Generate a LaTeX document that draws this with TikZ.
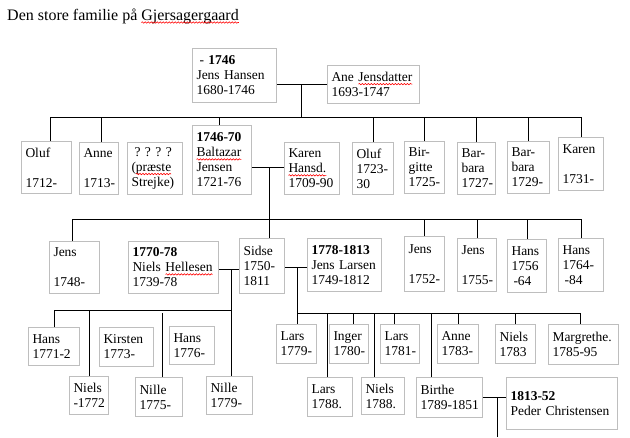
\documentclass[tikz,border=0pt]{standalone}
\usepackage{fontspec}
\setmainfont{Liberation Serif}
\usetikzlibrary{decorations.pathmorphing}
\newsavebox\wavebox
\newcommand\redwave[1]{\sbox\wavebox{#1}\mbox{\rlap{\usebox\wavebox}\tikz[overlay, baseline=0pt, x=1pt, y=1pt]{\draw[red, line width=0.6pt, decorate, decoration={snake, amplitude=0.7pt, segment length=3pt}] (0,-2.5) -- (\wd\wavebox,-2.5);}\hspace*{\wd\wavebox}}}
\newcommand\nobreaks{\hyphenpenalty=10000\relax\exhyphenpenalty=10000\relax}
\definecolor{boxgray}{RGB}{190,190,190}

\begin{document}
\begin{tikzpicture}[x=1pt, y=-1pt,
    person/.style={draw=boxgray, line width=1pt, anchor=north west, align=left,
        inner xsep=4pt, inner ysep=0pt,
        font=\fontsize{13.5}{15}\selectfont\nobreaks},
    link/.style={draw=black, line width=1pt}]
    \useasboundingbox (0,0) rectangle (630,437);
    \node[anchor=base west, inner sep=0pt, font=\fontsize{16}{18}\selectfont] (title) at (7,20) {Den store familie på \redwave{Gjersagergaard}};

    % first couple
    \node[person, text width=76pt, minimum height=54] (jhansen) at (192,48) {\hspace*{3pt}- \textbf{1746}\\Jens Hansen\\1680-1746};
    \node[person, text width=84pt, minimum height=38] (ane) at (327,65) {Ane \redwave{Jensdatter}\\1693-1747};
    \coordinate (top) at (301,117);
    \draw[link] (ane.west -| jhansen.east) -- (ane.west);
    \draw[link] (top |- ane.west) -- (top);

    % their children
    \node[person, text width=42pt, minimum height=52] (oluf) at (21,141) {Oluf\\[15pt]1712-};
    \node[person, text width=31pt, minimum height=52] (anne) at (79,142) {Anne\\[15pt]1713-};
    \node[person, text width=47pt, minimum height=52] (praeste) at (127,142) {\hspace*{3pt}?~?~?~?\\(\redwave{præste}\\Strejke)};
    \node[person, text width=51pt, minimum height=69] (baltazar) at (192,125) {\textbf{1746-70}\\\redwave{Baltazar}\\Jensen\\1721-76};
    \node[person, text width=47pt, minimum height=52] (karenh) at (284,142) {Karen\\\redwave{Hansd.}\\1709-90};
    \node[person, text width=33pt, minimum height=52] (oluf2) at (352,142) {Oluf\\1723-\\30};
    \node[person, text width=32pt, minimum height=52] (birgitte) at (404,141) {Bir-\\gitte\\1725-};
    \node[person, text width=30pt, minimum height=52] (barbara1) at (457,142) {Bar-\\bara\\1727-};
    \node[person, text width=34pt, minimum height=52] (barbara2) at (507,141) {Bar-\\bara\\1729-};
    \node[person, text width=37pt, minimum height=53] (karen) at (558,137) {Karen\\[15pt]1731-};
    \draw[link] ([xshift=4]oluf.north |- top) -- (karen.north |- top);
    \draw[link] ([xshift=4]oluf.north) -- ([xshift=4]oluf.north |- top);
    \draw[link] ([xshift=2.5]anne.north) -- ([xshift=2.5]anne.north |- top);
    \draw[link] ([xshift=-2.5]baltazar.north) -- ([xshift=-2.5]baltazar.north |- top);
    \draw[link] (oluf2.north) -- (oluf2.north |- top);
    \draw[link] (birgitte.north) -- (birgitte.north |- top);
    \draw[link] (barbara1.north) -- (barbara1.north |- top);
    \draw[link] (barbara2.north) -- (barbara2.north |- top);
    \draw[link] (karen.north) -- (karen.north |- top);

    % second couple and children
    \node[person, text width=42pt, minimum height=52] (jens48) at (49,241) {Jens\\[15pt]1748-};
    \node[person, text width=82pt, minimum height=52] (niels) at (128,241) {\textbf{1770-78}\\Niels \redwave{Hellesen}\\1739-78};
    \node[person, text width=37pt, minimum height=55] (sidse) at (239,238) {Sidse\\1750-\\1811};
    \node[person, text width=66pt, minimum height=53] (jlarsen) at (307,238) {\textbf{1778-1813}\\Jens Larsen\\1749-1812};
    \node[person, text width=32pt, minimum height=55] (jens52) at (404,236) {Jens\\[15pt]1752-};
    \node[person, text width=31pt, minimum height=53] (jens55) at (457,238) {Jens\\[15pt]1755-};
    \node[person, text width=31pt, minimum height=53] (hans56) at (507,239) {Hans\\1756\\\hspace*{2pt}-64};
    \node[person, text width=37pt, minimum height=53] (hans64) at (558,238) {Hans\\1764-\\\hspace*{2pt}-84};
    \coordinate (mid2) at (269,167);
    \coordinate (bar2) at (269,219);
    \draw[link] (baltazar.east |- mid2) -- (karenh.west |- mid2);
    \draw[link] (mid2) -- (mid2 |- sidse.north);
    \draw[link] ([xshift=-2]jens48.north |- bar2) -- (hans64.north |- bar2);
    \draw[link] ([xshift=-2]jens48.north) -- ([xshift=-2]jens48.north |- bar2);
    \draw[link] (jens52.north) -- (jens52.north |- bar2);
    \draw[link] (jens55.north) -- (jens55.north |- bar2);
    \draw[link] (hans56.north) -- (hans56.north |- bar2);
    \draw[link] (hans64.north) -- (hans64.north |- bar2);

    % Sidse and Niels Hellesen
    \node[person, text width=43pt, minimum height=38] (hans71) at (28,327) {Hans\\1771-2};
    \node[person, text width=31pt, minimum height=38] (niels72) at (69,376) {Niels\\-1772};
    \node[person, text width=46pt, minimum height=39] (kirsten) at (99,327) {Kirsten\\1773-};
    \node[person, text width=37pt, minimum height=38] (hans76) at (169,326) {Hans\\1776-};
    \node[person, text width=39pt, minimum height=39] (nille75) at (135,377) {Nille\\1775-};
    \node[person, text width=38pt, minimum height=38] (nille79) at (206,376) {Nille\\1779-};
    \coordinate (mid3) at (231,269);
    \coordinate (bar3) at (231,310);
    \draw[link] (niels.east |- mid3) -- (sidse.west |- mid3);
    \draw[link] (mid3) -- (mid3 |- nille79.north);
    \draw[link] (hans71.north |- bar3) -- (bar3);
    \draw[link] (hans71.north) -- (hans71.north |- bar3);
    \draw[link] (niels72.north) -- (niels72.north |- bar3);
    \draw[link] ([xshift=3.5]nille75.north) -- ([xshift=3.5,yshift=64]nille75.north);

    % Sidse and Jens Larsen
    \node[person, text width=32pt, minimum height=39] (lars79) at (276,324) {Lars\\1779-};
    \node[person, text width=31pt, minimum height=39] (inger) at (329,324) {Inger\\1780-};
    \node[person, text width=31pt, minimum height=39] (lars81) at (380,324) {Lars\\1781-};
    \node[person, text width=33pt, minimum height=39] (anne83) at (437,324) {Anne\\1783-};
    \node[person, text width=32pt, minimum height=39] (niels83) at (495,324) {Niels\\1783};
    \node[person, text width=62pt, minimum height=40] (margrethe) at (548,324) {Margrethe.\\1785-95};
    \node[person, text width=37pt, minimum height=39] (lars88) at (307,377) {Lars\\1788.};
    \node[person, text width=35pt, minimum height=37] (niels88) at (361,377) {Niels\\1788.};
    \node[person, text width=58pt, minimum height=40] (birthe) at (416,377) {Birthe\\1789-1851};
    \node[person, text width=103pt, minimum height=52] (peder) at (506,377) {\textbf{1813-52}\\Peder Christensen};
    \coordinate (mid4) at (297,267);
    \coordinate (bar4) at (297,313);
    \draw[link] (sidse.east |- mid4) -- (jlarsen.west |- mid4);
    \draw[link] (mid4) -- (mid4 |- lars79.north);
    \draw[link] (bar4) -- ([xshift=-3]margrethe.north |- bar4);
    \draw[link] ([xshift=4.5]inger.north) -- ([xshift=4.5]inger.north |- bar4);
    \draw[link] ([xshift=-5.5]lars81.north) -- ([xshift=-5.5]lars81.north |- bar4);
    \draw[link] (anne83.north) -- (anne83.north |- bar4);
    \draw[link] (niels83.north) -- (niels83.north |- bar4);
    \draw[link] ([xshift=-3]margrethe.north) -- ([xshift=-3]margrethe.north |- bar4);
    \draw[link] ([xshift=-2.5]lars88.north) -- ([xshift=-2.5]lars88.north |- bar4);
    \draw[link] ([xshift=-8.5]niels88.north) -- ([xshift=-8.5]niels88.north |- bar4);
    \draw[link] ([xshift=-18]birthe.north) -- ([xshift=-18]birthe.north |- bar4);

    % Birthe and Peder Christensen
    \coordinate (mid5) at (497,397);
    \coordinate (tail) at (497,437);
    \draw[link] (birthe.east) -- (peder.west |- birthe.east);
    \draw[link] (mid5) -- (tail);
\end{tikzpicture}
\end{document}
